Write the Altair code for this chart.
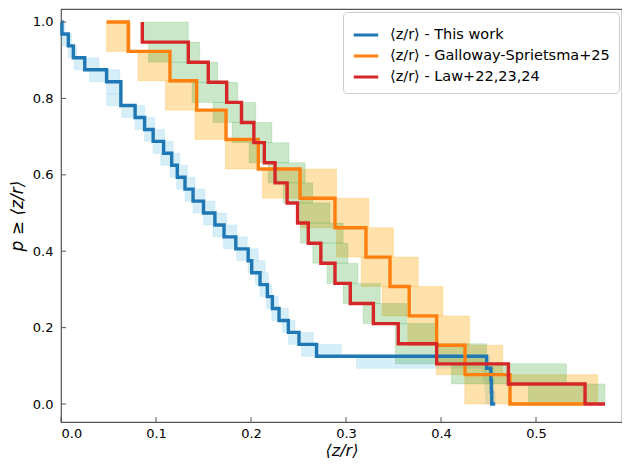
import altair as alt
import pandas as pd

# ---------------- data ----------------
labels = ["⟨z/r⟩ - This work", "⟨z/r⟩ - Galloway-Sprietsma+25", "⟨z/r⟩ - Law+22,23,24"]
line_colors = ["#1f77b4", "#ff7f0e", "#d62728"]
band_colors = ["#87ceeb", "#ffa500", "#2ca02c"]
band_opacity = [0.35, 0.33, 0.25]

# This work: sorted values (drop positions of p >= <z/r>)
blue_x = [0.001, 0.0077, 0.013, 0.025, 0.048, 0.063, 0.063, 0.078, 0.088, 0.097,
          0.108, 0.1165, 0.1224, 0.1305, 0.139, 0.150, 0.162, 0.1716, 0.184, 0.197,
          0.2007, 0.2095, 0.2172, 0.2225, 0.2295, 0.2393, 0.2505, 0.269, 0.448, 0.4525,
          0.453, 0.4534]
blue_start, blue_end = 0.0, 0.457
blue_lo = [0.000, 0.001, 0.0077, 0.014, 0.030, 0.048, 0.048, 0.064, 0.078, 0.088,
           0.097, 0.105, 0.1147, 0.1218, 0.1305, 0.139, 0.150, 0.160, 0.171, 0.185,
           0.197, 0.2045, 0.2095, 0.2165, 0.2218, 0.233, 0.2393, 0.253, 0.311, 0.444,
           0.446, 0.447]
blue_hi = [0.004, 0.0113, 0.0165, 0.040, 0.062, 0.064, 0.064, 0.088, 0.0985, 0.109,
           0.118, 0.1253, 0.133, 0.141, 0.1516, 0.162, 0.1744, 0.185, 0.196, 0.2077,
           0.2147, 0.218, 0.2218, 0.2287, 0.2393, 0.2463, 0.2656, 0.295, 0.452, 0.455,
           0.456, 0.457]

# Galloway-Sprietsma+25
orange_x = [0.0708, 0.1147, 0.1428, 0.1737, 0.2077, 0.2516, 0.2884, 0.321, 0.3463,
            0.3665, 0.3954, 0.4253, 0.4726]
orange_start, orange_end = 0.048, 0.55
orange_lo = [0.048, 0.081, 0.110, 0.141, 0.173, 0.212, 0.252, 0.290, 0.316, 0.338,
             0.365, 0.395, 0.425]
orange_hi = [0.073, 0.113, 0.143, 0.173, 0.209, 0.290, 0.324, 0.350, 0.376, 0.402,
             0.430, 0.465, 0.565]

# Law+22,23,24
red_x = [0.0856, 0.134, 0.155, 0.1744, 0.19, 0.203, 0.214, 0.2253, 0.238, 0.249,
         0.2603, 0.2735, 0.2884, 0.3045, 0.3288, 0.355, 0.3954, 0.4709, 0.5516]
red_start, red_end = 0.0856, 0.5726
red_lo = [0.086, 0.092, 0.115, 0.138, 0.160, 0.180, 0.198, 0.218, 0.234, 0.248,
          0.252, 0.265, 0.280, 0.297, 0.318, 0.352, 0.352, 0.411, 0.492]
red_hi = [0.134, 0.146, 0.165, 0.186, 0.205, 0.222, 0.240, 0.257, 0.265, 0.283,
          0.297, 0.302, 0.3126, 0.336, 0.364, 0.396, 0.448, 0.532, 0.5726]

x_ticks = [0.0, 0.1, 0.2, 0.3, 0.4, 0.5]
y_ticks = [0.0, 0.2, 0.4, 0.6, 0.8, 1.0]

# ---------------- build tables ----------------
def step_rows(name, start, drops, end):
    n = len(drops)
    rows = [dict(series=name, i=0, x=start, p=1.0)]
    for k, d in enumerate(drops, 1):
        rows.append(dict(series=name, i=k, x=d, p=(n - k) / n))
    rows.append(dict(series=name, i=n + 1, x=end, p=0.0))
    return rows

def box_table(drops, lo, hi):
    n = len(drops)
    return pd.DataFrame({
        "lo": lo, "hi": hi,
        "ytop": [(n - k + 1) / n for k in range(1, n + 1)],
        "ybot": [(n - k) / n for k in range(1, n + 1)],
    })

series = [
    (blue_start, blue_x, blue_end, blue_lo, blue_hi),
    (orange_start, orange_x, orange_end, orange_lo, orange_hi),
    (red_start, red_x, red_end, red_lo, red_hi),
]

W, H = 561, 413
xscale = alt.Scale(domain=[0, 0.5905], nice=False, zero=False)
yscale = alt.Scale(domain=[-0.047, 1.034], nice=False, zero=False)
FONT = "DejaVu Sans"

xaxis = alt.Axis(values=x_ticks, format=".1f", ticks=False, domain=False, grid=False,
                 labelFontSize=13, labelColor="black", labelPadding=5, labelFont=FONT,
                 title="⟨z/r⟩", titleFontSize=16, titleFontStyle="italic",
                 titleFontWeight="normal", titleColor="black", titlePadding=2, titleFont=FONT)
yaxis = alt.Axis(values=y_ticks, format=".1f", ticks=False, domain=False, grid=False,
                 labelFontSize=13, labelColor="black", labelPadding=8, labelFont=FONT,
                 title="p ≥ ⟨z/r⟩", titleFontSize=17, titleFontStyle="italic",
                 titleFontWeight="normal", titleColor="black", titlePadding=6, titleFont=FONT)

layers = []
for (st, dr, en, lo, hi), col, op in zip(series, band_colors, band_opacity):
    bt = box_table(dr, lo, hi)
    layers.append(
        alt.Chart(bt).mark_rect(fill=col, fillOpacity=op, stroke=col, strokeOpacity=op * 0.6,
                                strokeWidth=1).encode(
            x=alt.X("lo:Q", scale=xscale, axis=xaxis),
            x2="hi:Q",
            y=alt.Y("ybot:Q", scale=yscale, axis=yaxis),
            y2="ytop:Q",
        )
    )

rows = []
for name, (st, dr, en, lo, hi) in zip(labels, series):
    rows += step_rows(name, st, dr, en)
line_df = pd.DataFrame(rows)

for name in labels:
    layers.append(
        alt.Chart(line_df).transform_filter(alt.datum.series == name)
        .mark_line(interpolate="step-after", strokeWidth=3.4)
        .encode(
            x=alt.X("x:Q", scale=xscale, axis=xaxis),
            y=alt.Y("p:Q", scale=yscale, axis=yaxis),
            color=alt.Color("series:N",
                            scale=alt.Scale(domain=labels, range=line_colors),
                            legend=alt.Legend(title=None, orient="top-right", offset=3,
                                              symbolType="stroke", symbolStrokeWidth=3,
                                              symbolSize=600, labelFontSize=14.5,
                                              labelFont=FONT, labelColor="black",
                                              labelLimit=400, padding=9, rowPadding=0,
                                              labelOffset=10, fillColor="white",
                                              strokeColor="#cccccc", cornerRadius=4)),
            order="i:Q",
        )
    )

xt = pd.DataFrame({"v": x_ticks})
yt = pd.DataFrame({"v": y_ticks})
layers.append(alt.Chart(xt).mark_rule(color="#555555", strokeWidth=1).encode(
    x=alt.X("v:Q", scale=xscale, axis=xaxis), y=alt.value(H), y2=alt.value(H - 5)))
layers.append(alt.Chart(yt).mark_rule(color="#555555", strokeWidth=1).encode(
    y=alt.Y("v:Q", scale=yscale, axis=yaxis), x=alt.value(0), x2=alt.value(5)))

chart = alt.layer(*layers).properties(
    width=W, height=H,
    padding={"left": 53, "top": 1, "right": 0, "bottom": 40},
    autosize=alt.AutoSizeParams(type="none"),
).configure_view(stroke="#555555", strokeWidth=1.2)

chart.save("out.html", embed_options={"renderer": "svg", "actions": False})
